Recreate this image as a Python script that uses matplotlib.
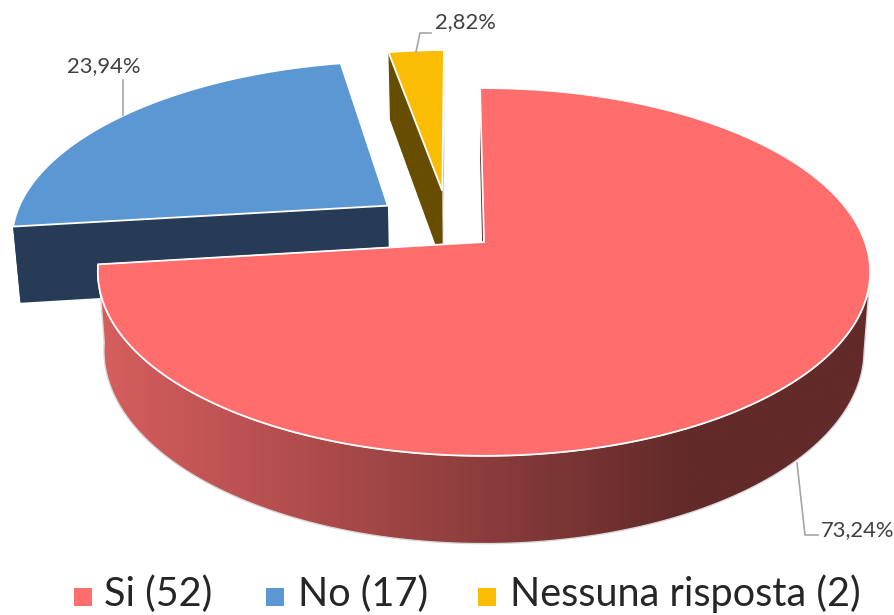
import numpy as np
import matplotlib
matplotlib.use("Agg")
import matplotlib.pyplot as plt
from matplotlib.patches import Polygon, Rectangle
from matplotlib.colors import LinearSegmentedColormap

# dati
labels = ["Si (52)", "No (17)", "Nessuna risposta (2)"]
percent = [73.24, 23.94, 2.82]
percent_text = ["73,24%", "23,94%", "2,82%"]
colors = ["#FF6D6D", "#5B97D2", "#FBBC04"]
wall_colors = ["#622A29", "#263C56", "#664D00"]

# spostamento delle fette (pie esploso) sul piano della torta
explode_x = [0.0, -0.261, -0.115]
explode_y = [0.0, 0.21, 0.30]

start_angle = -0.7

# prospettiva della torta in pixel
cx, cy_top, cy_low = 484, 242, 319
rx_top, rx_low = 381, 375
ry_top, ry_low = 179, 188
persp = 0.163


def project(x, y, low=False):
    w = 1 + persp * y
    if low:
        return cx + rx_low * x / w, cy_low - ry_low * y / w
    return cx + rx_top * x / w, cy_top - ry_top * y / w


def arc(a0, a1, ox, oy, low=False, n=200):
    t = np.radians(np.linspace(a0, a1, n))
    px, py = project(ox + np.sin(t), oy + np.cos(t), low)
    return np.column_stack([px, py])


def apex(ox, oy, low=False):
    px, py = project(np.array([ox]), np.array([oy]), low)
    return np.column_stack([px, py])


fig = plt.figure(figsize=(8.95, 6.15), dpi=100)
ax = fig.add_axes([0, 0, 1, 1])
ax.set_xlim(0, 895)
ax.set_ylim(615, 0)
ax.axis("off")

edges = np.cumsum([0] + percent) * 3.6 + start_angle

# fette staccate: prima gialla, poi blu, poi rossa sopra
for i in [2, 1, 0]:
    a0, a1 = edges[i], edges[i + 1]
    ox, oy = explode_x[i], explode_y[i]
    top_arc = arc(a0, a1, ox, oy)
    low_arc = arc(a0, a1, ox, oy, low=True)
    a_top = apex(ox, oy)
    a_low = apex(ox, oy, low=True)

    # parete del taglio sinistro
    cut = np.vstack([a_top, top_arc[-1:], low_arc[-1:], a_low])
    ax.add_patch(Polygon(cut, closed=True, fc=wall_colors[i], ec="#F2F2F2", lw=0.8, zorder=i * -3 + 7))
    # parete sul taglio iniziale
    cut2 = np.vstack([a_top, top_arc[:1], low_arc[:1], a_low])
    ax.add_patch(Polygon(cut2, closed=True, fc=wall_colors[i], ec="none", zorder=i * -3 + 7))

    if i == 0:
        # parete esterna rossa con sfumatura
        w_top = arc(100, a1, ox, oy)
        w_low = arc(100, a1, ox, oy, low=True)
        wall = Polygon(np.vstack([w_top, w_low[::-1]]), closed=True, fc="none", ec="#D9D9D9", lw=1.0, zorder=8)
        ax.add_patch(wall)
        cmap = LinearSegmentedColormap.from_list("wall", ["#D65E5E", "#B24D4D", "#8A3C3C", "#622A29", "#622A29"])
        grad = np.linspace(0, 1, 512).reshape(1, -1)
        im = ax.imshow(grad, extent=[100, 880, 560, 250], cmap=cmap, aspect="auto", zorder=7.5)
        im.set_clip_path(wall)
        ax.set_xlim(0, 895)
        ax.set_ylim(615, 0)
    elif i == 1:
        # bordo esterno blu
        wall = np.vstack([arc(a0, a0 + 25, ox, oy), arc(a0, a0 + 25, ox, oy, low=True)[::-1]])
        ax.add_patch(Polygon(wall, closed=True, fc=wall_colors[i], ec="none", zorder=i * -3 + 7))

    top = np.vstack([a_top, top_arc])
    ax.add_patch(Polygon(top, closed=True, fc=colors[i], ec="white", lw=1.3, joinstyle="miter", zorder=i * -3 + 9))

# linee guida ed etichette
leaders = [([797, 805, 818], [463, 535, 535]), ([123, 123], [115, 80]), ([416, 420, 431], [52, 33, 33])]
label_pos = [(821, 530), (67, 66), (435, 22)]
for i in range(3):
    ax.plot(leaders[i][0], leaders[i][1], color="#A6A6A6", lw=1.2, zorder=10)
    ax.text(label_pos[i][0], label_pos[i][1], percent_text[i], fontsize=15.8, color="#404040",
            family="Lato", va="center", ha="left", zorder=11)

# legenda
legend_box = [74, 266, 478]
legend_text = [104, 298, 510]
for i in range(3):
    ax.add_patch(Rectangle((legend_box[i], 588), 18, 18, fc=colors[i], ec="none"))
    ax.text(legend_text[i], 606, labels[i], fontsize=28.5, color="#262626", family="Lato",
            va="baseline", ha="left", clip_on=False)

fig.savefig("out.png", dpi=100)
